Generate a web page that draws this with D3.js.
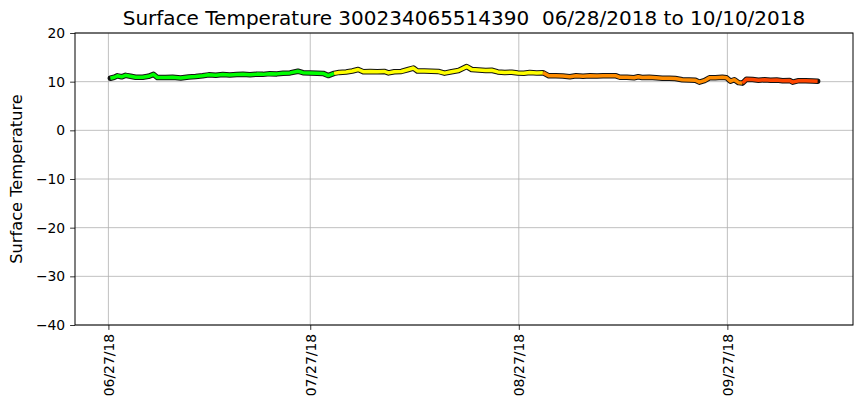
<!DOCTYPE html>
<html>
<head>
<meta charset="utf-8">
<script src="https://cdn.jsdelivr.net/npm/d3@7"></script>
<style>
  html, body { margin: 0; padding: 0; background: #fff; }
  svg { display: block; font-family: "DejaVu Sans", sans-serif; }
  .pre { white-space: pre; }
</style>
</head>
<body>
<svg id="chart" width="860" height="408"></svg>
<script>
// ---- data ----
const titleText = "Surface Temperature 300234065514390  06/28/2018 to 10/10/2018";
const yLabelText = "Surface Temperature";

const times = [
  "2018-06-27T07:00","2018-06-27T21:00","2018-06-28T08:00","2018-06-28T23:00","2018-06-29T13:00",
  "2018-06-30T07:00","2018-07-01T01:00","2018-07-02T02:00","2018-07-02T23:00","2018-07-03T17:00",
  "2018-07-04T07:00","2018-07-05T12:00","2018-07-06T13:00","2018-07-07T18:00","2018-07-08T22:00",
  "2018-07-09T23:00","2018-07-11T00:00","2018-07-11T22:00","2018-07-12T23:00","2018-07-14T00:00",
  "2018-07-15T01:00","2018-07-16T02:00","2018-07-17T00:00","2018-07-18T01:00","2018-07-19T02:00",
  "2018-07-19T23:00","2018-07-21T00:00","2018-07-22T01:00","2018-07-22T23:00","2018-07-24T00:00",
  "2018-07-25T04:00","2018-07-25T22:00","2018-07-26T23:00","2018-07-28T00:00","2018-07-28T22:00",
  "2018-07-29T16:00","2018-07-30T13:00","2018-07-31T07:00","2018-08-01T08:00","2018-08-02T06:00",
  "2018-08-03T03:00","2018-08-03T21:00","2018-08-04T22:00","2018-08-05T23:00","2018-08-07T00:00",
  "2018-08-07T15:00","2018-08-08T12:00","2018-08-09T13:00","2018-08-10T14:00","2018-08-11T08:00",
  "2018-08-11T22:00","2018-08-12T23:00","2018-08-14T00:00","2018-08-15T01:00","2018-08-15T23:00",
  "2018-08-17T00:00","2018-08-18T01:00","2018-08-19T06:00","2018-08-20T00:00","2018-08-21T01:00",
  "2018-08-22T02:00","2018-08-22T23:00","2018-08-23T21:00","2018-08-24T22:00","2018-08-25T23:00",
  "2018-08-26T20:00","2018-08-27T18:00","2018-08-28T15:00","2018-08-29T16:00","2018-08-30T14:00",
  "2018-08-31T11:00","2018-09-01T12:00","2018-09-02T13:00","2018-09-03T14:00","2018-09-04T12:00",
  "2018-09-05T13:00","2018-09-06T14:00","2018-09-07T15:00","2018-09-08T12:00","2018-09-09T13:00",
  "2018-09-10T11:00","2018-09-11T01:00","2018-09-12T02:00","2018-09-13T03:00","2018-09-13T18:00",
  "2018-09-14T08:00","2018-09-15T09:00","2018-09-16T10:00","2018-09-17T08:00","2018-09-18T09:00",
  "2018-09-19T06:00","2018-09-20T07:00","2018-09-21T08:00","2018-09-22T06:00","2018-09-22T20:00",
  "2018-09-23T14:00","2018-09-24T08:00","2018-09-25T05:00","2018-09-26T06:00","2018-09-26T21:00",
  "2018-09-27T11:00","2018-09-28T01:00","2018-09-28T16:00","2018-09-29T06:00","2018-09-29T20:00",
  "2018-09-30T18:00","2018-10-01T15:00","2018-10-02T13:00","2018-10-03T10:00","2018-10-04T08:00",
  "2018-10-05T05:00","2018-10-06T06:00","2018-10-06T17:00","2018-10-07T14:00","2018-10-08T15:00",
  "2018-10-09T16:00","2018-10-10T10:00"
];

const temps = [
  10.7, 10.9, 11.2, 11.0, 11.3,
  11.1, 10.9, 10.9, 11.1, 11.5,
  10.85, 10.85, 10.9, 10.75, 10.95,
  11.05, 11.2, 11.4, 11.3, 11.45,
  11.35, 11.45, 11.5, 11.4, 11.55,
  11.5, 11.65, 11.6, 11.75, 11.8,
  12.15, 11.85, 11.8, 11.75, 11.7,
  11.25, 11.7, 11.9, 12.0, 12.2,
  12.5, 12.05, 12.1, 12.05, 12.1,
  11.8, 12.05, 12.1, 12.5, 12.8,
  12.2, 12.2, 12.15, 12.1, 11.75,
  12.05, 12.3, 13.1, 12.5, 12.4,
  12.3, 12.35, 12.0, 11.9, 11.95,
  11.8, 11.75, 11.9, 11.8, 11.85,
  11.2, 11.2, 11.15, 11.0, 11.2,
  11.1, 11.2, 11.15, 11.2, 11.2,
  11.2, 10.9, 10.9, 10.8, 11.0,
  10.85, 10.9, 10.8, 10.7, 10.7,
  10.65, 10.4, 10.35, 10.3, 9.9,
  10.2, 10.8, 10.8, 10.9, 10.8,
  10.1, 10.4, 9.8, 9.7, 10.5,
  10.45, 10.3, 10.4, 10.3, 10.35,
  10.2, 10.25, 9.9, 10.2, 10.2,
  10.15, 10.1
];

// colour bands along time (segment starts)
const bandStarts = ["2018-06-27T00:00","2018-07-31T07:00","2018-08-31T05:00","2018-09-29T18:00"];
const bandColors = ["#00ff00","#ffff00","#ff8c00","#ff4500"];

const xTickDates = ["2018-06-27","2018-07-27","2018-08-27","2018-09-27"];
const yTicks = [-40, -30, -20, -10, 0, 10, 20];

// ---- layout ----
const W = 860, H = 408;
const m = {left: 75, right: 7, top: 33, bottom: 83};
const iw = W - m.left - m.right, ih = H - m.top - m.bottom;

const parse = d3.utcParse("%Y-%m-%dT%H:%M");
const parseDay = d3.utcParse("%Y-%m-%d");
const data = times.map((t, i) => ({t: parse(t), v: temps[i]}));

const ext = d3.extent(data, d => d.t);
const pad = (ext[1] - ext[0]) * 0.05;
const x = d3.scaleUtc().domain([new Date(+ext[0] - pad), new Date(+ext[1] + pad)]).range([0, iw]);
const y = d3.scaleLinear().domain([-40, 20]).range([ih, 0]);

const svg = d3.select("#chart");
const g = svg.append("g").attr("transform", `translate(${m.left},${m.top})`);

// grid
const xt = xTickDates.map(parseDay);
g.append("g").selectAll("line").data(xt).join("line")
  .attr("x1", d => x(d)).attr("x2", d => x(d)).attr("y1", 0).attr("y2", ih)
  .attr("stroke", "#b0b0b0").attr("stroke-width", 0.8);
g.append("g").selectAll("line").data(yTicks).join("line")
  .attr("x1", 0).attr("x2", iw).attr("y1", d => y(d)).attr("y2", d => y(d))
  .attr("stroke", "#b0b0b0").attr("stroke-width", 0.8);

// line: black outline then coloured bands
const line = d3.line().x(d => x(d.t)).y(d => y(d.v));
g.append("path").datum(data).attr("d", line)
  .attr("fill", "none").attr("stroke", "#111").attr("stroke-width", 5.5)
  .attr("stroke-linejoin", "round").attr("stroke-linecap", "round");

const bs = bandStarts.map(parse);
bs.forEach((s, i) => {
  const e = i + 1 < bs.length ? bs[i + 1] : new Date(8.64e15);
  const idx = data.map((d, j) => j).filter(j => data[j].t >= s && data[j].t < e);
  if (!idx.length) return;
  const seg = [];
  if (idx[0] > 0) seg.push(data[idx[0] - 1]);
  idx.forEach(j => seg.push(data[j]));
  g.append("path").datum(seg).attr("d", line)
    .attr("fill", "none").attr("stroke", bandColors[i]).attr("stroke-width", 3.5)
    .attr("stroke-linejoin", "round").attr("stroke-linecap", "butt");
});

// axes
const fmt = d3.utcFormat("%m/%d/%y");
const xAxis = g.append("g").attr("transform", `translate(0,${ih})`)
  .call(d3.axisBottom(x).tickValues(xt).tickFormat(fmt).tickSize(4.9).tickPadding(4));
xAxis.select(".domain").remove();
xAxis.selectAll("line").attr("stroke", "#000").attr("stroke-width", 0.8);
xAxis.selectAll("text")
  .attr("font-size", 13.9).attr("font-family", "DejaVu Sans").attr("fill", "#000")
  .attr("text-anchor", "end").attr("dy", "0.35em")
  .attr("transform", `translate(0,${4.9 + 4}) rotate(-90)`)
  .attr("x", 0).attr("y", 0);

const yAxis = g.append("g")
  .call(d3.axisLeft(y).tickValues(yTicks).tickFormat(d => d < 0 ? "\u2212" + Math.abs(d) : String(d)).tickSize(4.9).tickPadding(4.9));
yAxis.select(".domain").remove();
yAxis.selectAll("line").attr("stroke", "#000").attr("stroke-width", 0.8);
yAxis.selectAll("text").attr("font-size", 13.9).attr("font-family", "DejaVu Sans").attr("fill", "#000");

// frame
g.append("rect").attr("x", 0).attr("y", 0).attr("width", iw).attr("height", ih)
  .attr("fill", "none").attr("stroke", "#000").attr("stroke-width", 1);

// title & label
svg.append("text").attr("class", "pre").attr("x", m.left + iw / 2).attr("y", 25)
  .attr("text-anchor", "middle").attr("font-size", 20).attr("fill", "#000").text(titleText);
svg.append("text").attr("transform", `translate(22,${m.top + ih / 2}) rotate(-90)`)
  .attr("text-anchor", "middle").attr("font-size", 16.2).attr("fill", "#000").text(yLabelText);
</script>
</body>
</html>
